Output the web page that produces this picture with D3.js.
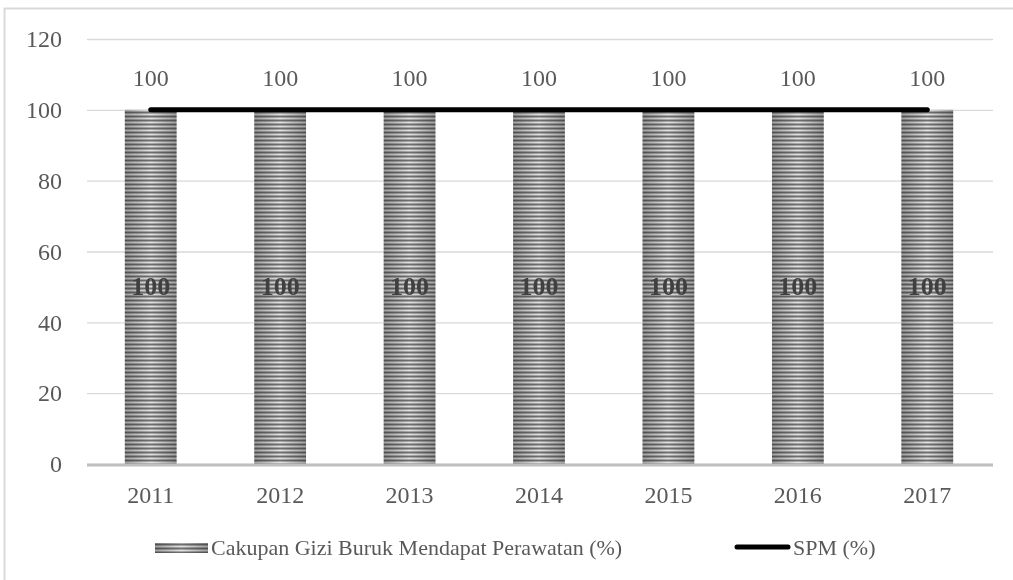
<!DOCTYPE html>
<html>
<head>
<meta charset="utf-8">
<script src="https://cdn.jsdelivr.net/npm/d3@7"></script>
<style>
  html, body { margin: 0; padding: 0; background: #fff; }
  svg { display: block; font-family: "Liberation Serif", serif; }
</style>
</head>
<body>
<div id="chart"></div>
<script>
// data
const years = ["2011", "2012", "2013", "2014", "2015", "2016", "2017"];
const coverage = [100, 100, 100, 100, 100, 100, 100];
const spm = [100, 100, 100, 100, 100, 100, 100];
const yTicks = [0, 20, 40, 60, 80, 100, 120];
const seriesNames = ["Cakupan Gizi Buruk Mendapat Perawatan (%)", "SPM (%)"];

const width = 1013, height = 580;
const margin = { top: 39, right: 20, bottom: 116, left: 87 };
const textColor = "#595959";
const fontSize = 24;

const svg = d3.select("#chart").append("svg")
  .attr("width", width)
  .attr("height", height);

// chart frame (runs past the right and bottom of the picture)
svg.append("rect")
  .attr("x", 4.5).attr("y", 8.5)
  .attr("width", width + 20).attr("height", height + 20)
  .attr("fill", "#fff")
  .attr("stroke", "#d9d9d9")
  .attr("stroke-width", 2);

// striped fill for the bars
const defs = svg.append("defs");
const grad = defs.append("linearGradient").attr("id", "shade")
  .attr("x1", 0).attr("x2", 1).attr("y1", 0).attr("y2", 0);
grad.append("stop").attr("offset", "0%").attr("stop-color", "#b4b4b4");
grad.append("stop").attr("offset", "50%").attr("stop-color", "#ffffff");
grad.append("stop").attr("offset", "100%").attr("stop-color", "#b4b4b4");

const pat = defs.append("pattern").attr("id", "stripes")
  .attr("patternUnits", "userSpaceOnUse")
  .attr("width", 8).attr("height", 4);
pat.append("rect").attr("width", 8).attr("height", 4).attr("fill", "#707070");
pat.append("rect").attr("y", 1.5).attr("width", 8).attr("height", 2).attr("fill", "#e2e2e2");

const x = d3.scaleBand()
  .domain(years)
  .range([margin.left, 993])
  .paddingInner(0.6)
  .paddingOuter(0.3);

const xc = d3.scalePoint()
  .domain(years)
  .range([margin.left, 993])
  .padding(0.5);

const y = d3.scaleLinear()
  .domain([0, 120])
  .range([464, margin.top]);

// gridlines + y labels
const yAxis = svg.append("g")
  .attr("transform", `translate(${margin.left},0)`)
  .call(d3.axisLeft(y).tickValues(yTicks).tickSize(-(993 - margin.left)).tickPadding(25));
yAxis.select(".domain").remove();
yAxis.selectAll(".tick line").attr("stroke", "#d9d9d9").attr("stroke-width", 1.3);
yAxis.selectAll(".tick text")
  .attr("fill", textColor)
  .attr("font-size", fontSize)
  .attr("font-family", "Liberation Serif");

// bars
const bars = svg.append("g");
years.forEach((yr, i) => {
  const bx = x(yr) - 1, bw = x.bandwidth();
  const by = y(coverage[i]), bh = y(0) - y(coverage[i]);
  bars.append("rect")
    .attr("x", bx).attr("y", by).attr("width", bw).attr("height", bh)
    .attr("fill", "url(#stripes)");
  bars.append("rect")
    .attr("x", bx).attr("y", by).attr("width", bw).attr("height", bh)
    .attr("fill", "url(#shade)")
    .style("mix-blend-mode", "multiply");
});

// x axis line
svg.append("line")
  .attr("x1", margin.left).attr("x2", 993)
  .attr("y1", y(0) + 1).attr("y2", y(0) + 1)
  .attr("stroke", "#bfbfbf").attr("stroke-width", 3);

svg.append("g").selectAll("text")
  .data(years).join("text")
  .attr("x", d => xc(d) - 1)
  .attr("y", y(0) + 39)
  .attr("text-anchor", "middle")
  .attr("fill", textColor)
  .attr("font-size", fontSize)
  .text(d => d);

// labels inside bars
svg.append("g").selectAll("text")
  .data(coverage).join("text")
  .attr("x", (d, i) => xc(years[i]) - 1)
  .attr("y", d => y(d / 2) + 8)
  .attr("text-anchor", "middle")
  .attr("fill", "#404040")
  .attr("font-size", 26)
  .attr("font-weight", "bold")
  .text(d => d);

// SPM line
const line = d3.line()
  .x((d, i) => xc(years[i]) - 1)
  .y(d => y(d));
svg.append("path")
  .datum(spm)
  .attr("d", line)
  .attr("fill", "none")
  .attr("stroke", "#000")
  .attr("stroke-width", 5)
  .attr("stroke-linecap", "round");

// labels above the line
svg.append("g").selectAll("text")
  .data(spm).join("text")
  .attr("x", (d, i) => xc(years[i]) - 1)
  .attr("y", d => y(d) - 24)
  .attr("text-anchor", "middle")
  .attr("fill", textColor)
  .attr("font-size", fontSize)
  .text(d => d);

// legend
const lg = svg.append("g");
lg.append("rect")
  .attr("x", 155).attr("y", 543).attr("width", 53).attr("height", 10)
  .attr("fill", "url(#stripes)");
lg.append("rect")
  .attr("x", 155).attr("y", 543).attr("width", 53).attr("height", 10)
  .attr("fill", "url(#shade)")
  .style("mix-blend-mode", "multiply");
lg.append("text")
  .attr("x", 211).attr("y", 555)
  .attr("fill", textColor).attr("font-size", 22)
  .text(seriesNames[0]);
lg.append("line")
  .attr("x1", 737).attr("x2", 788).attr("y1", 547).attr("y2", 547)
  .attr("stroke", "#000").attr("stroke-width", 5)
  .attr("stroke-linecap", "round");
lg.append("text")
  .attr("x", 793).attr("y", 555)
  .attr("fill", textColor).attr("font-size", 22)
  .text(seriesNames[1]);
</script>
</body>
</html>
